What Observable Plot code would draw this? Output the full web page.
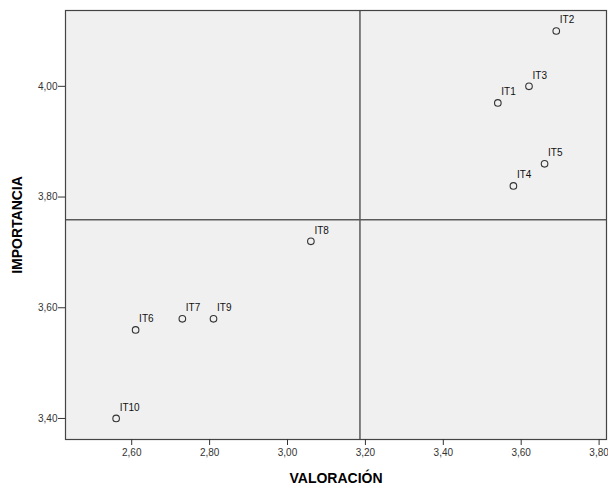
<!DOCTYPE html>
<html>
<head>
<meta charset="utf-8">
<script src="https://cdn.jsdelivr.net/npm/d3@7"></script>
<script src="https://cdn.jsdelivr.net/npm/@observablehq/plot@0.6"></script>
<style>
  html, body { margin: 0; padding: 0; background: #fff; }
  #chart svg { display: block; }
  g[aria-label="x-axis label"] text, g[aria-label="y-axis label"] text {
    font-weight: bold; font-size: 14px; fill: #000;
  }
</style>
</head>
<body>
<div id="chart"></div>
<script>
const items = ["IT1","IT2","IT3","IT4","IT5","IT6","IT7","IT8","IT9","IT10"];
const valoracion = [3.54, 3.69, 3.62, 3.58, 3.66, 2.61, 2.73, 3.06, 2.81, 2.56];
const importancia = [3.97, 4.10, 4.00, 3.82, 3.86, 3.56, 3.58, 3.72, 3.58, 3.40];
const refX = [3.186];
const refY = [3.759];
const xTicks = [2.6, 2.8, 3.0, 3.2, 3.4, 3.6, 3.8];
const yTicks = [3.4, 3.6, 3.8, 4.0];

const data = items.map((d, i) => ({item: d, x: valoracion[i], y: importancia[i]}));
const fmt = v => v.toFixed(2).replace(".", ",");

const chart = Plot.plot({
  width: 608,
  height: 486,
  marginLeft: 65,
  marginRight: 2,
  marginTop: 10,
  marginBottom: 47,
  style: {fontFamily: "Liberation Sans, Arial, sans-serif", fontSize: "10px", background: "#fff"},
  x: {domain: [2.43, 3.819]},
  y: {domain: [3.362, 4.137]},
  marks: [
    Plot.frame({fill: "#f0f0f0", stroke: null}),
    Plot.ruleX(refX, {stroke: "#5a5a5a", strokeWidth: 1.5}),
    Plot.ruleY(refY, {stroke: "#5a5a5a", strokeWidth: 1.5}),
    Plot.dot(data, {x: "x", y: "y", r: 3.3, stroke: "#333", strokeWidth: 1.1, fill: "none"}),
    Plot.text(data, {x: "x", y: "y", text: "item", textAnchor: "start", dx: 3.5, dy: -11, fill: "#111", fontSize: 10}),
    Plot.frame({stroke: "#444", strokeWidth: 1.2}),
    Plot.axisX({ticks: xTicks, tickFormat: fmt, tickSize: 6, tickPadding: 3, stroke: "#333", color: "#333",
      label: "VALORACIÓN", labelAnchor: "center", labelArrow: "none", labelOffset: 43}),
    Plot.axisY({ticks: yTicks, tickFormat: fmt, tickSize: 7, tickPadding: 1, stroke: "#333", color: "#333",
      label: "IMPORTANCIA", labelAnchor: "center", labelArrow: "none", labelOffset: 53})
  ]
});
document.getElementById("chart").appendChild(chart);
</script>
</body>
</html>
